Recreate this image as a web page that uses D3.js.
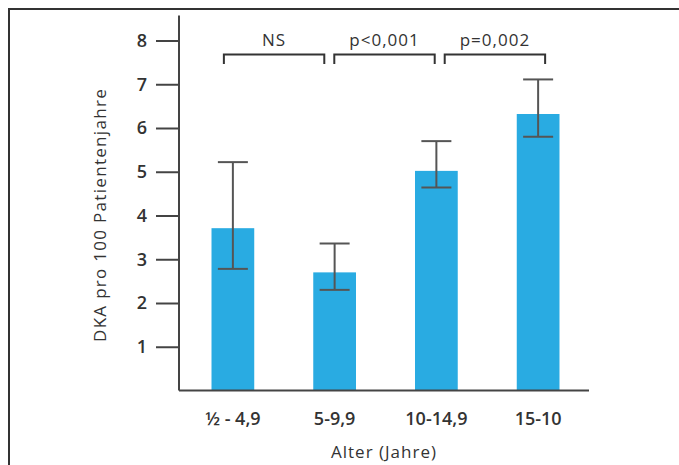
<!doctype html>
<html>
<head>
    <meta charset="UTF-8">
    <script src="https://d3js.org/d3.v7.min.js"></script>
    <title></title>
</head>

<body style="margin:0">

<style>
    text {
        font-family: "Open Sans", sans-serif;
        fill: #333;
    }
</style>

<div id="graph"></div>

<script>
    // data
    var ageGroups = ["½ - 4,9", "5-9,9", "10-14,9", "15-10"];
    var dkaRate   = [3.71, 2.70, 5.02, 6.32];
    var errLow    = [2.78, 2.30, 4.64, 5.80];
    var errHigh   = [5.22, 3.36, 5.70, 7.11];
    var yTicks    = [1, 2, 3, 4, 5, 6, 7, 8];
    var pLabels   = ["NS", "p<0,001", "p=0,002"];

    var w = 679, h = 465;

    var vis = d3.select("#graph")
            .append("svg")
            .attr("width", w)
            .attr("height", h)
            .style("background-color", "#fff");

    // frame around the figure (open to the right and bottom)
    vis.append("path")
            .attr("d", "M9," + h + "V9H" + w)
            .attr("fill", "none")
            .style("stroke", "#333")
            .style("stroke-width", 2);

    var x = d3.scaleBand()
            .domain(ageGroups)
            .range([182, 589])
            .paddingInner(0.58)
            .paddingOuter(0.29);

    var y = d3.scaleLinear()
            .domain([0, 8])
            .range([390.5, 40.5]);

    var bw = x.bandwidth();
    function cx(d) { return x(d) + bw / 2; }

    // bars
    vis.selectAll(".bar")
            .data(ageGroups)
            .enter()
            .append("rect")
            .attr("class", "bar")
            .attr("x", function(d) { return x(d); })
            .attr("y", function(d, i) { return y(dkaRate[i]); })
            .attr("width", bw)
            .attr("height", function(d, i) { return y(0) - y(dkaRate[i]); })
            .attr("fill", "#29abe2");

    // error bars
    var err = vis.selectAll(".err")
            .data(ageGroups)
            .enter()
            .append("g")
            .attr("class", "err")
            .style("stroke", "#555")
            .style("stroke-width", 2);

    err.append("line")
            .attr("x1", cx).attr("x2", cx)
            .attr("y1", function(d, i) { return y(errLow[i]); })
            .attr("y2", function(d, i) { return y(errHigh[i]); });
    err.append("line")
            .attr("x1", function(d) { return cx(d) - 15; })
            .attr("x2", function(d) { return cx(d) + 15; })
            .attr("y1", function(d, i) { return y(errHigh[i]); })
            .attr("y2", function(d, i) { return y(errHigh[i]); });
    err.append("line")
            .attr("x1", function(d) { return cx(d) - 15; })
            .attr("x2", function(d) { return cx(d) + 15; })
            .attr("y1", function(d, i) { return y(errLow[i]); })
            .attr("y2", function(d, i) { return y(errLow[i]); });

    // y axis
    var yAxis = vis.append("g")
            .attr("transform", "translate(179,0)")
            .call(d3.axisLeft(y).tickValues(yTicks).tickSize(23).tickPadding(9).tickFormat(d3.format("d")));
    yAxis.select(".domain").attr("d", "M0," + (y(8) - 25) + "V" + y(0));
    yAxis.selectAll("line, .domain").style("stroke", "#444").style("stroke-width", 2);
    yAxis.selectAll("text")
            .style("font-size", "18px")
            .style("font-weight", 600)
            .style("fill", "#333")
            .style("font-family", "'Open Sans', sans-serif");

    // x axis
    var xAxis = vis.append("g")
            .attr("transform", "translate(0," + y(0) + ")")
            .call(d3.axisBottom(x).tickSize(0).tickPadding(22));
    xAxis.select(".domain").attr("d", "M179,0H589");
    xAxis.selectAll(".domain").style("stroke", "#444").style("stroke-width", 2);
    xAxis.selectAll("text")
            .style("font-size", "18px")
            .style("font-weight", 600)
            .style("fill", "#333")
            .style("font-family", "'Open Sans', sans-serif");

    // axis titles
    vis.append("text")
            .attr("x", 384)
            .attr("y", 458)
            .attr("text-anchor", "middle")
            .style("font-size", "17px")
            .style("font-weight", 500)
            .style("letter-spacing", "1px")
            .text("Alter (Jahre)");

    vis.append("text")
            .attr("transform", "translate(106,215) rotate(-90)")
            .attr("text-anchor", "middle")
            .style("font-size", "17px")
            .style("font-weight", 500)
            .style("letter-spacing", "1.3px")
            .text("DKA pro 100 Patientenjahre");

    // significance brackets, spread evenly over the bars
    var bStart = cx(ageGroups[0]) - 9,
        bEnd = cx(ageGroups[ageGroups.length - 1]) + 7,
        gap = 10,
        bWidth = (bEnd - bStart - gap * (pLabels.length - 1)) / pLabels.length;

    var br = vis.selectAll(".bracket")
            .data(pLabels)
            .enter()
            .append("g")
            .attr("class", "bracket")
            .attr("transform", function(d, i) { return "translate(" + (bStart + i * (bWidth + gap)) + ",0)"; });

    br.append("path")
            .attr("d", "M0,64V54.5H" + bWidth + "V64")
            .attr("fill", "none")
            .style("stroke", "#333")
            .style("stroke-width", 2);

    br.append("text")
            .attr("x", bWidth / 2)
            .attr("y", 46)
            .attr("text-anchor", "middle")
            .style("font-size", "17px")
            .style("font-weight", 500)
            .style("letter-spacing", "1px")
            .text(function(d) { return d; });
</script>

</body>
</html>
